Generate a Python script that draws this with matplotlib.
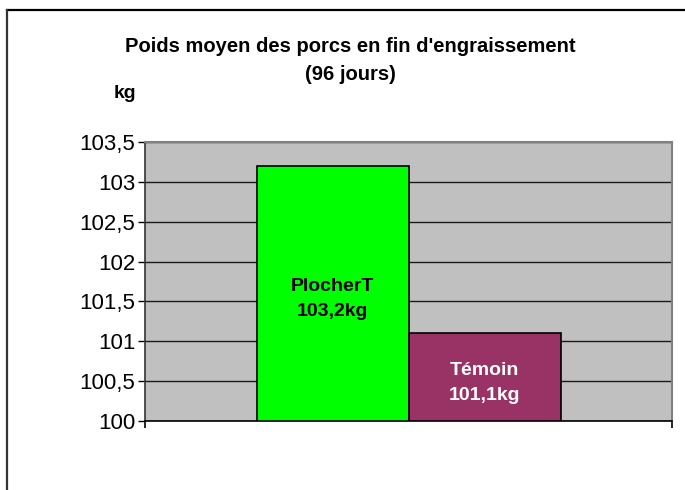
import matplotlib.pyplot as plt
from matplotlib.lines import Line2D

# Data
series_names = ["PlocherT", "Témoin"]
values = [103.2, 101.1]
bar_colors = ["#00FF00", "#993366"]
label_colors = ["black", "white"]
y_ticks = [100, 100.5, 101, 101.5, 102, 102.5, 103, 103.5]
y_tick_labels = ["100", "100,5", "101", "101,5", "102", "102,5", "103", "103,5"]
title = "Poids moyen des porcs en fin d'engraissement\n(96 jours)"
y_unit = "kg"

plt.rcParams['font.family'] = ['Liberation Sans', 'DejaVu Sans']

W, H = 685, 490
fig = plt.figure(figsize=(W / 100, H / 100), dpi=100)
fig.patch.set_facecolor("white")

ax = fig.add_axes([145 / W, 1 - 421 / H, (672 - 145) / W, (421 - 142) / H])
ax.set_facecolor("#C0C0C0")

bar_w = 152 / 527
offsets = [-bar_w / 2, bar_w / 2]
y0 = y_ticks[0]
for off, val, col, name, lcol in zip(offsets, values, bar_colors, series_names, label_colors):
    ax.bar(off, val - y0, bottom=y0, width=bar_w, color=col,
           edgecolor="black", linewidth=1.2, zorder=3)
    txt = f"{name}\n{str(val).replace('.', ',')}kg"
    ax.annotate(txt, xy=(off, y0 + (val - y0) / 2), xytext=(0, -4),
                textcoords="offset points", ha="center", va="center",
                fontsize=14, fontweight="bold", color=lcol,
                linespacing=1.6, zorder=4)

ax.set_xlim(-0.5, 0.5)
ax.set_ylim(y_ticks[0], y_ticks[-1])
ax.set_yticks(y_ticks)
ax.set_yticklabels(y_tick_labels, fontsize=16)
ax.tick_params(axis="y", direction="out", length=5, width=1, pad=2, colors="black")
ax.set_xticks([-0.5, 0.5])
ax.set_xticklabels([])
ax.tick_params(axis="x", direction="out", length=5, width=1.2, colors="black")

ax.yaxis.grid(True, color="#1a1a1a", linewidth=1.0, zorder=1)
ax.set_axisbelow(True)

ax.spines["top"].set_color("#808080")
ax.spines["top"].set_linewidth(1.5)
ax.spines["right"].set_color("#808080")
ax.spines["right"].set_linewidth(1.5)
ax.spines["left"].set_color("#333333")
ax.spines["left"].set_linewidth(1.2)
ax.spines["bottom"].set_color("black")
ax.spines["bottom"].set_linewidth(1.2)

fig.text(350 / W, 1 - 60 / H, title, ha="center", va="center",
         fontsize=14.5, fontweight="bold", linespacing=1.6)
fig.text(125 / W, 1 - 94 / H, y_unit, ha="center", va="center",
         fontsize=14, fontweight="bold")

# outer chart frame (top and left edges visible)
fig.add_artist(Line2D([7 / W, 1], [1 - 10 / H, 1 - 10 / H], color="black", linewidth=1.6))
fig.add_artist(Line2D([7 / W, 7 / W], [0, 1 - 10 / H], color="#333333", linewidth=1.6))

fig.savefig("out.png", dpi=100)
